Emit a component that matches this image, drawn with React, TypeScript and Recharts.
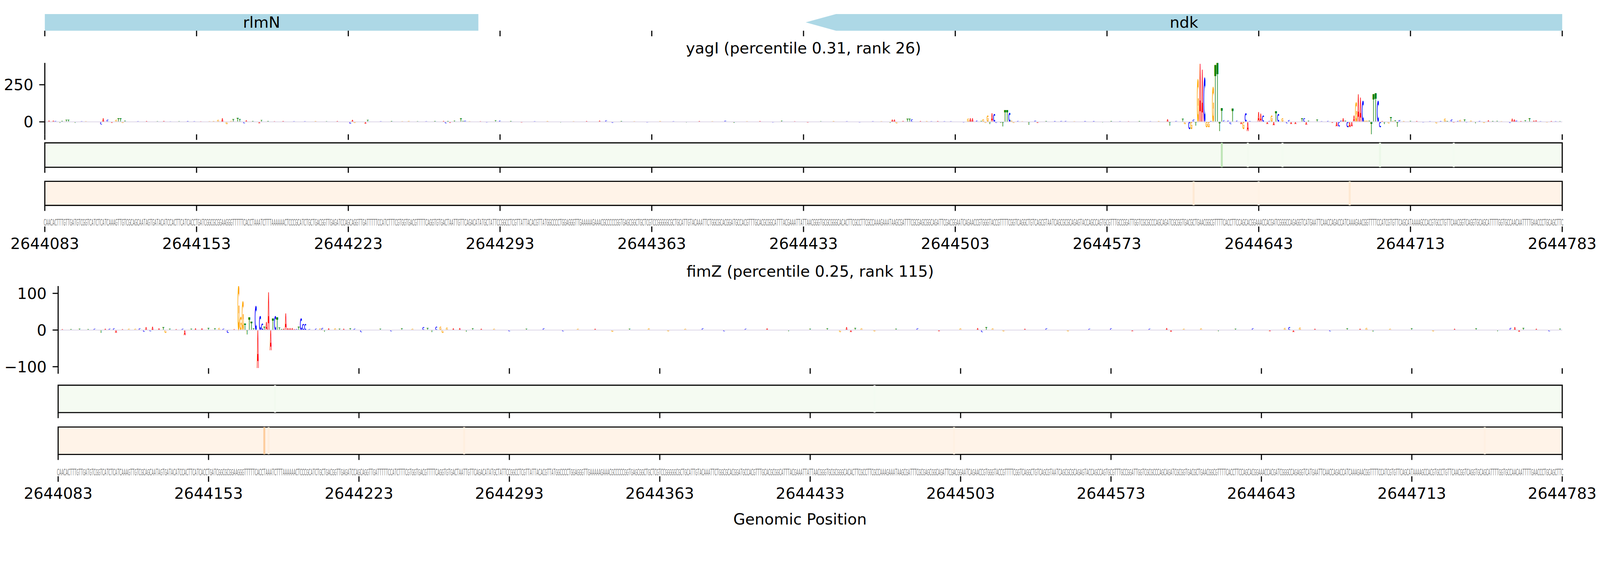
import React from "react";
import {
  BarChart,
  Bar,
  XAxis,
  YAxis,
  ReferenceArea,
  ReferenceLine,
  CartesianGrid,
} from "recharts";

// ---- data ----
const START = 2644083;
const END = 2644783;
const TICKS = [
  2644083, 2644153, 2644223, 2644293, 2644363, 2644433, 2644503, 2644573,
  2644643, 2644713, 2644783,
];

// reference sequence, one letter per position (701 bp)
const SEQ_BLOCKS = [
  "CAACACTTTG", "TTGATGTCGG", "TCATCTCATC", "AAAGTTGTCG", "CAGCAATAGT", "GATACATCCA", "CTTCATCACC",
  "TGATCGGCGC", "GGAAGGGTTT", "TTCACCTAAA", "TCTTTAAAAA", "ACTCCCGCAT", "CTGCTGACGG", "TTGAGATCCA", "G",
  "CAGGTTGATT", "TTTCCATCTT", "TCGTGGTGAC", "GTTTTCAGGT", "GTGACTAATT", "GTTCAGACAT", "ATGCTATTCC",
  "GGCCTCGTTA", "TTACACGTTA", "TGGCCCCTGG", "AGGGTTGAAA", "AAGAAACGCC", "CCCGGTGAGC", "GGCTGCTCGT", "C",
  "CGGGGGCGCT", "GCATTGTACA", "AATTCTGGCG", "CACGGATGCC", "ACGTTTGCAC", "GCGGCATTTA", "CGAAATTATT",
  "AACGGGTGCG", "CGGGCACACT", "TCGCCTTCGC", "CAAAGAAATA", "AGCGATTTCG", "CGAGCGGCAG", "ATTCGACGGA",
  "ATCAGAACCG", "TGGGTACCGT", "TTTCGGTCAG", "GCTGTCAGCG", "TAATCAGCGC", "GCAGAGTACC", "AGCCAGTGCG",
  "TTTGCCGGAT", "TGGTCGCGCC", "CAGCAGATCG", "CGGTGACGCT", "GAACGGCGTT", "TTCACCTTCC", "AGCACGGAAA",
  "CCACGATCGG", "GCCAGAGGTC", "ATGAATTCAA", "CCAGACCATC", "AAAGAACGGT", "TTTCCATCGT", "GTTCAGCATA",
  "AAAGCCACGT", "GCCTGTTCAA", "CGGTCAGGTG", "CAGCATTTTG", "GTGCCAACAA", "TTTTGAACCC", "TGCAGCTTC",
];
const SEQUENCE = SEQ_BLOCKS.join("");

const GENE_NAMES = ["rlmN", "ndk"];
const GENE_STARTS = [2644083, 2644434];
const GENE_ENDS = [2644283, 2644783];
const GENE_HEAD_BP = [0, 14];

const TITLES = ["yagI (percentile 0.31, rank 26)", "fimZ (percentile 0.25, rank 115)"];

// attribution per position: [offset from START, value]; unlisted positions ~0
const YAGI_SCORES: [number, number][] = [
  [2, 8], [4, 8], [5, 6], [7, -8], [8, 6], [10, 14], [11, 14], [14, -8], [17, 4], [19, 4],
  [26, -17], [27, 23], [29, 14], [31, -6], [33, 13], [34, 22], [35, 22], [36, -8], [37, 8],
  [43, 4], [47, 5], [52, 4], [55, 6], [58, 3], [62, 4], [66, 5], [69, 4], [72, 3], [76, 4], [78, 5],
  [80, 13], [82, 25], [84, -15], [86, 6], [87, 17], [89, 27], [90, 17], [92, -10], [93, 10], [96, 5],
  [99, -10], [100, 12], [103, 5], [106, 4], [110, 5], [115, 4], [120, 4], [125, 5], [130, 4], [135, 5],
  [141, -12], [142, 13], [143, -8], [148, -12], [149, 13], [155, 4], [160, 5], [165, 4], [168, 6],
  [172, 4], [176, 4], [180, 5], [184, 6], [185, -10], [186, 5], [187, -6], [189, 8], [192, 22],
  [193, 6], [194, 8], [196, 4], [201, 4], [204, -4], [208, 10], [210, 8],
  [215, 5], [220, -4], [226, 4], [232, 5], [238, -5], [244, 4], [250, 5], [256, 8], [259, 10],
  [262, -6], [266, 5], [272, 4], [278, -4], [284, 5], [290, 4], [296, -5], [302, 5], [308, 4],
  [314, 8], [318, -6], [324, 4], [330, 5], [336, -4], [340, 8], [346, 4], [352, -5], [358, 4],
  [364, 5], [370, 4], [376, -4],
  [382, 4], [386, 4], [390, -8], [391, 15], [392, 15], [393, -10], [396, 6], [398, 20], [399, 20],
  [400, 16], [404, 5], [407, 5], [409, 4], [412, 5], [415, 4], [418, 4],
  [424, -5], [426, 20], [427, 22], [428, 22], [430, 8], [432, 6], [433, 17], [434, -7], [435, 39],
  [436, -15], [437, 59], [438, 50], [439, -6], [441, -6], [442, -31], [443, 77], [444, 79], [445, 61],
  [446, 8], [447, -6], [449, 6], [451, 4], [454, -20], [457, 8], [458, -8],
  [462, 5], [466, 5], [469, 6], [471, 6], [475, 4], [480, 5], [484, 5], [488, -4], [492, 5], [496, 4],
  [500, 4], [505, 5], [510, 4], [514, 5],
  [518, 17], [519, -27], [522, 6], [525, 20], [526, -15], [528, -50], [529, -50], [530, 15], [531, -27],
  [532, 283], [533, 390], [534, 351], [535, 294], [536, -37], [537, -37], [538, 5], [539, 231],
  [540, 383], [541, 397], [542, -63], [543, 92],
  [544, 10], [546, 8], [547, -15], [548, 90], [550, 8], [552, -15], [553, -50], [554, 59], [555, -63],
  [556, 5], [559, -3], [560, 64], [561, 55], [562, 41], [564, -15], [565, 6], [566, 41], [567, -24],
  [568, 70], [569, 51], [571, 22], [573, -10], [574, 11], [575, -15], [577, -15], [580, 22], [581, 25],
  [582, -20], [583, 8], [587, 15], [589, 4], [592, 6], [594, -6], [596, -31], [597, -31], [598, 8],
  [599, 25], [600, 8], [601, -37], [602, -37], [603, -30], [604, 42], [605, 130], [606, 185],
  [607, 165], [608, 139], [609, 8], [610, 8], [611, 8], [612, -84], [613, 185], [614, 190], [615, 139],
  [616, -37], [617, 5], [618, -15], [620, -10], [621, 32], [622, 6], [623, 10], [624, -33], [625, 11],
  [627, 5], [630, 6], [633, 5], [636, -4], [639, 4], [642, -10], [644, 5], [646, 19], [647, 5],
  [649, 15], [650, -5], [652, 6], [653, 12], [655, 15], [656, -5], [658, 8], [660, -10], [662, 6],
  [664, -8], [666, 10], [668, 5], [670, 6], [672, 4], [676, -8], [677, 20], [678, 16], [679, 8],
  [681, 5], [683, 10], [685, 22], [687, 8], [688, 10], [690, 4], [693, -5], [695, 5], [697, 4], [699, 4],
];

const FIMZ_SCORES: [number, number][] = [
  [2, 3], [6, 3], [10, 4], [14, 3], [17, 4], [20, -8], [22, 4], [24, 4], [26, 5], [27, -8], [30, 3],
  [33, 4], [36, 4], [38, 5], [40, -5], [41, 8], [43, -4], [44, 9], [47, 5], [49, 8], [50, -8], [52, 4],
  [55, 3], [58, 4], [59, -14], [62, 4], [64, 5], [67, 5], [70, 6], [73, 5], [75, 6], [77, 4], [79, -8],
  [82, 3],
  [84, 120], [85, 36], [86, 77], [87, 18], [88, -12], [89, 34], [90, 24], [91, 5], [92, 65], [93, -104],
  [94, 39], [95, 18], [96, 9], [97, 22], [98, 102], [99, -55], [100, 31], [101, 39], [102, 34], [103, 7],
  [104, 3], [105, 4], [106, 45], [107, 6], [108, 6], [109, 6], [110, 3], [111, 3], [112, 10], [113, 31],
  [114, 17], [115, 17],
  [117, 3], [120, 4], [122, 5], [123, 6], [124, -5], [126, 5], [129, 5], [131, 4], [133, 4], [136, 5],
  [138, 4], [141, -6],
  [150, 4], [155, -4], [160, 5], [165, 4], [170, 8], [172, 6], [174, -6], [176, 9], [178, 10], [179, -8],
  [181, 7], [184, 5], [187, 6], [190, -5], [193, 5], [197, 4], [203, 4], [210, -4], [218, 4], [226, 5],
  [235, -4], [242, 4], [250, 4], [258, -5], [266, 4], [275, 5], [284, -4], [292, 4], [300, 5], [310, -4],
  [320, 4], [330, 5], [340, -4], [350, 4], [358, 5], [364, -6], [367, 8], [369, -6], [371, 6], [374, 5],
  [380, -4], [390, 4], [400, 5], [410, -4], [420, 5], [428, 6], [430, -6], [432, 8], [435, 5], [440, -4],
  [450, 4], [460, 5], [470, -4], [480, 4], [490, 5], [500, -4], [508, 4], [516, 6], [518, -5], [524, 4],
  [532, 5], [540, -4], [548, 4], [556, 5], [564, -4], [571, 6], [573, 8], [575, -6], [578, 7], [585, 4],
  [592, -4], [600, 5], [606, 4], [609, 6], [612, -5], [620, 4], [630, 5], [640, -4], [650, 4], [660, 5],
  [670, -4], [676, 6], [678, 8], [680, -5], [682, 6], [688, 4], [694, -4], [699, 4],
];

// heat strips (0..1 on the colormap); unlisted positions sit at the base level
const BASE_HEAT = 0.015;
const YAGI_GREEN: [number, number][] = [
  [543, 0.28], [555, 0.03], [571, 0.025], [616, 0.08], [650, 0.025],
];
const YAGI_ORANGE: [number, number][] = [[530, 0.1], [560, 0.025], [602, 0.11]];
const FIMZ_GREEN: [number, number][] = [[101, 0.035], [380, 0.025]];
const FIMZ_ORANGE: [number, number][] = [[96, 0.26], [98, 0.06], [189, 0.05], [417, 0.035], [664, 0.04]];

// ---- styling ----
const W = 4320;
const H = 1440;
const RIGHT = 4218;
const FONT = "DejaVu Sans";
const FS = 41.67;
const BASE_COLORS: Record<string, string> = { A: "#ff0000", C: "#0000ff", G: "#ffa500", T: "#008000" };
const GREENS = ["#f7fcf5", "#e5f5e0", "#c7e9c0", "#a1d99b", "#74c476", "#41ab5d", "#238b45", "#006d2c", "#00441b"];
const ORANGES = ["#fff5eb", "#fee6ce", "#fdd0a2", "#fdae6b", "#fd8d3c", "#f16913", "#d94801", "#a63603", "#7f2704"];
const CAP = 0.729;
const INK_BOLD: Record<string, number> = { A: 0.77, C: 0.623, G: 0.71, T: 0.673 };
const INK_REG: Record<string, number> = { A: 0.668, C: 0.574, G: 0.642, T: 0.617 };
const tickLineStyle = { stroke: "#000", strokeWidth: 3 };
const labelStyle = { fontSize: FS, fill: "#000", fontFamily: FONT };

const POSITIONS = SEQUENCE.split("").map((_, i) => START + i);

function buildTrack(scores: [number, number][], green: [number, number][], orange: [number, number][]) {
  const s = new Map(scores);
  const g = new Map(green);
  const o = new Map(orange);
  return SEQUENCE.split("").map((base, i) => ({
    pos: START + i,
    base,
    score: s.get(i) ?? 0,
    green: g.get(i) ?? 0,
    orange: o.get(i) ?? 0,
  }));
}

const TRACKS = [buildTrack(YAGI_SCORES, YAGI_GREEN, YAGI_ORANGE), buildTrack(FIMZ_SCORES, FIMZ_GREEN, FIMZ_ORANGE)];
const SCORE_LISTS = [YAGI_SCORES, FIMZ_SCORES];

const PANELS = [
  { left: 121, yWidth: 100, yTicks: [0, 250], logo: [170, 363], green: [386, 452], orange: [490, 555], seqAxis: 611, titleY: 145 },
  { left: 157, yWidth: 136, yTicks: [-100, 0, 100], logo: [773, 995], green: [1041, 1115], orange: [1154, 1228], seqAxis: 1286, titleY: 748 },
];

function hexToRgb(h: string) {
  return [1, 3, 5].map((k) => parseInt(h.slice(k, k + 2), 16));
}
function colorAt(cmap: string[], v: number) {
  const t = Math.max(0, Math.min(1, v)) * (cmap.length - 1);
  const i = Math.min(cmap.length - 2, Math.floor(t));
  const f = t - i;
  const a = hexToRgb(cmap[i]);
  const b = hexToRgb(cmap[i + 1]);
  const c = a.map((x, k) => Math.round(x + (b[k] - x) * f));
  return `rgb(${c[0]},${c[1]},${c[2]})`;
}

function Glyph({ base, cx, bottom, w, h, color, bold }: any) {
  const fs = 100;
  const ink = (bold ? INK_BOLD : INK_REG)[base] ?? 0.65;
  const sx = w / (ink * fs);
  const sy = h / (CAP * fs);
  return (
    <text
      transform={`translate(${cx},${bottom}) scale(${sx},${sy})`}
      x={0}
      y={0}
      textAnchor="middle"
      fontSize={fs}
      fontFamily={FONT}
      fontWeight={bold ? "bold" : "normal"}
      fill={color}
    >
      {base}
    </text>
  );
}

function LogoLetter(props: any) {
  const { x, y, width, height, payload } = props;
  if (!payload || !height || Math.abs(height) < 0.3) return <g />;
  const top = height < 0 ? y + height : y;
  const h = Math.abs(height);
  return <Glyph base={payload.base} cx={x + width / 2} bottom={top + h} w={width * 0.95} h={h} color={BASE_COLORS[payload.base]} bold />;
}

function HeatCell(props: any) {
  const { x, width, payload, field, cmap, top, h, background } = props;
  const v = payload ? payload[field] : 0;
  if (!v) return <g />;
  const y0 = background && background.height ? background.y : top;
  const hh = background && background.height ? background.height : h;
  return <rect x={x} y={y0} width={width} height={hh} fill={colorAt(cmap, v)} />;
}

function SeqLetter(props: any) {
  const { x, y, payload, cell } = props;
  const base = SEQUENCE[payload.value - START];
  if (!base) return <g />;
  return <Glyph base={base} cx={x} bottom={y - 1} w={cell * 0.9} h={17} color="#808080" />;
}

function GeneShape(props: any) {
  const { x, y, width, height, headPx } = props;
  if (!headPx) return <rect x={x} y={y} width={width} height={height} fill="#add8e6" />;
  const pts = [
    [x, y + height / 2],
    [x + headPx, y],
    [x + width, y],
    [x + width, y + height],
    [x + headPx, y + height],
  ];
  return <polygon points={pts.map((p) => p.join(",")).join(" ")} fill="#add8e6" />;
}

const noLabel = () => <g />;

function tickOnlyAxis() {
  return (
    <XAxis
      type="number"
      dataKey="pos"
      domain={[START, END]}
      ticks={TICKS}
      interval={0}
      allowDataOverflow
      axisLine={false}
      tickLine={tickLineStyle}
      stroke="#000"
      tickSize={15}
      tick={noLabel}
      height={20}
    />
  );
}

const layer: React.CSSProperties = { position: "absolute", left: 0, top: 0 };

function GeneTrack() {
  const cell = (RIGHT - 121) / (END - START);
  return (
    <div style={layer}>
      <BarChart width={W} height={H} data={TRACKS[0]} margin={{ top: 38, bottom: H - 83 - 20, left: 121, right: W - RIGHT }}>
        {tickOnlyAxis()}
        <YAxis hide type="number" domain={[0, 1]} allowDataOverflow />
        {GENE_NAMES.map((name, i) => (
          <ReferenceArea
            key={name}
            x1={GENE_STARTS[i]}
            x2={GENE_ENDS[i]}
            y1={0}
            y2={1}
            ifOverflow="visible"
            fill="#add8e6"
            fillOpacity={1}
            shape={(p: any) => <GeneShape {...p} headPx={GENE_HEAD_BP[i] * cell} />}
            label={{ value: name, position: "center", ...labelStyle }}
          />
        ))}
      </BarChart>
    </div>
  );
}

function LogoPanel({ k }: { k: number }) {
  const p = PANELS[k];
  const vals = SCORE_LISTS[k].map((d) => d[1]);
  const domain = [Math.min(...vals), Math.max(...vals)];
  const cell = (RIGHT - p.left) / (END - START);
  return (
    <div style={layer}>
      <BarChart
        width={W}
        height={H}
        data={TRACKS[k]}
        barCategoryGap={0}
        barGap={0}
        margin={{ top: p.logo[0], bottom: H - p.logo[1] - 20, left: p.left - p.yWidth, right: W - RIGHT }}
      >
        {tickOnlyAxis()}
        <YAxis
          type="number"
          domain={domain}
          ticks={p.yTicks}
          interval={0}
          allowDataOverflow
          width={p.yWidth}
          stroke="#000"
          axisLine={{ stroke: "#000", strokeWidth: 3 }}
          tickLine={tickLineStyle}
          tickSize={15}
          tickMargin={16}
          tick={labelStyle}
          tickFormatter={(v: number) => String(v).replace("-", "\u2212")}
        />
        <ReferenceLine y={0} stroke="#ddd6e8" strokeWidth={2} />
        <Bar dataKey="score" isAnimationActive={false} barSize={cell} shape={(s: any) => <LogoLetter {...s} />} />
      </BarChart>
    </div>
  );
}

function StripPanel({ k, field, cmap }: { k: number; field: "green" | "orange"; cmap: string[] }) {
  const p = PANELS[k];
  const [top, bottom] = p[field];
  const cell = (RIGHT - p.left) / (END - START);
  return (
    <div style={layer}>
      <BarChart
        width={W}
        height={H}
        data={TRACKS[k]}
        barCategoryGap={0}
        barGap={0}
        margin={{ top, bottom: H - bottom - 20, left: p.left, right: W - RIGHT }}
      >
        <CartesianGrid horizontal={false} vertical={false} fill={colorAt(cmap, BASE_HEAT)} fillOpacity={1} stroke="none" />
        {tickOnlyAxis()}
        <YAxis hide type="number" domain={[0, 1]} allowDataOverflow />
        <Bar
          dataKey={field}
          isAnimationActive={false}
          barSize={cell}
          shape={(s: any) => <HeatCell {...s} field={field} cmap={cmap} top={top} h={bottom - top} />}
        />
        <ReferenceArea x1={START} x2={END} fill="none" fillOpacity={0} stroke="#000" strokeWidth={3} ifOverflow="visible" />
      </BarChart>
    </div>
  );
}

function SequenceAxis({ k }: { k: number }) {
  const p = PANELS[k];
  const cell = (RIGHT - p.left) / (END - START);
  return (
    <div style={layer}>
      <BarChart
        width={W}
        height={H}
        data={TRACKS[k]}
        margin={{ top: p.seqAxis - 40, bottom: H - p.seqAxis - 1 - 80, left: p.left, right: W - RIGHT }}
      >
        <XAxis
          xAxisId="seq"
          orientation="top"
          type="number"
          dataKey="pos"
          domain={[START, END]}
          ticks={POSITIONS}
          interval={0}
          allowDataOverflow
          height={40}
          axisLine={false}
          tickLine={false}
          tickSize={0}
          tickMargin={0}
          tick={(t: any) => <SeqLetter {...t} cell={cell} />}
        />
        <XAxis
          xAxisId="main"
          type="number"
          dataKey="pos"
          domain={[START, END]}
          ticks={TICKS}
          interval={0}
          allowDataOverflow
          height={80}
          stroke="#000"
          axisLine={false}
          tickLine={tickLineStyle}
          tickSize={15}
          tickMargin={16}
          tick={labelStyle}
        />
        <YAxis hide type="number" domain={[0, 1]} allowDataOverflow />
      </BarChart>
    </div>
  );
}

// fit the fixed 4320x1440 figure into whatever viewport the page gets
function useFitScale() {
  const calc = () =>
    typeof window === "undefined"
      ? 1
      : Math.min(1, window.innerWidth / W, window.innerHeight / H);
  const [s, setS] = React.useState(calc);
  React.useEffect(() => {
    const on = () => setS(calc());
    window.addEventListener("resize", on);
    return () => window.removeEventListener("resize", on);
  }, []);
  return s;
}

export default function App() {
  const s = useFitScale();
  return (
    <div
      style={{
        position: "absolute",
        left: 0,
        top: 0,
        width: W,
        height: H,
        background: "#fff",
        overflow: "hidden",
        transform: `scale(${s})`,
        transformOrigin: "0 0",
      }}
    >
      <GeneTrack />
      {PANELS.map((_, k) => (
        <React.Fragment key={k}>
          <LogoPanel k={k} />
          <StripPanel k={k} field="green" cmap={GREENS} />
          <StripPanel k={k} field="orange" cmap={ORANGES} />
          <SequenceAxis k={k} />
        </React.Fragment>
      ))}
      <svg width={W} height={H} style={layer}>
        {PANELS.map((p, k) => (
          <text key={k} x={(p.left + RIGHT) / 2} y={p.titleY} textAnchor="middle" fontSize={FS} fontFamily={FONT} fill="#000">
            {TITLES[k]}
          </text>
        ))}
        <text x={W / 2} y={1417} textAnchor="middle" fontSize={FS} fontFamily={FONT} fill="#000">
          Genomic Position
        </text>
      </svg>
    </div>
  );
}
